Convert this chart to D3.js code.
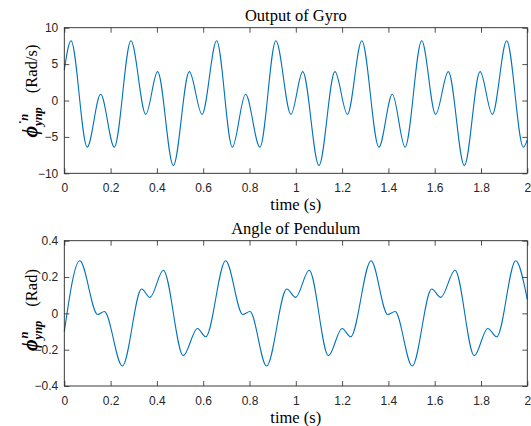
<!DOCTYPE html>
<html>
<head>
<meta charset="utf-8">
<script src="https://cdn.jsdelivr.net/npm/d3@7"></script>
<style>
  html, body { margin: 0; padding: 0; background: #fff; }
  svg { display: block; }
</style>
</head>
<body>
<svg id="chart" width="531" height="426"></svg>
<script>
// Gyro rate (rad/s): turning points of the trace over 0..2 s
const gyroTime = [0, 0.029, 0.099, 0.157, 0.216, 0.288, 0.352, 0.403, 0.471, 0.540, 0.595, 0.658,
  0.726, 0.783, 0.845, 0.914, 0.979, 1.030, 1.100, 1.169, 1.223, 1.285, 1.359, 1.417, 1.472,
  1.544, 1.604, 1.659, 1.728, 1.796, 1.849, 1.911, 1.983, 2.0];
const gyroRate = [4.2, 8.2, -6.4, 0.85, -6.4, 8.2, -1.9, 3.96, -8.95, 3.96, -1.9, 8.2,
  -6.4, 0.85, -6.4, 8.2, -1.9, 3.96, -8.95, 3.96, -1.9, 8.2, -6.4, 0.85, -6.4,
  8.2, -1.9, 3.96, -8.95, 3.96, -1.9, 8.2, -6.4, -5.4];

// Pendulum angle (rad): turning points of the trace over 0..2 s
const angleTime = [0, 0.067, 0.144, 0.173, 0.251, 0.334, 0.370, 0.428, 0.514, 0.575, 0.611, 0.697,
  0.771, 0.802, 0.874, 0.961, 0.999, 1.058, 1.141, 1.200, 1.237, 1.325, 1.397, 1.429, 1.503,
  1.587, 1.626, 1.688, 1.771, 1.829, 1.868, 1.950, 2.0];
const angleValue = [-0.101, 0.29, -0.006, 0.01, -0.29, 0.134, 0.088, 0.237, -0.233, -0.083, -0.129, 0.29,
  -0.006, 0.01, -0.29, 0.134, 0.088, 0.237, -0.233, -0.083, -0.129, 0.29, -0.006, 0.01, -0.29,
  0.134, 0.088, 0.237, -0.233, -0.083, -0.129, 0.29, 0.077];

const xTicks = [0, 0.2, 0.4, 0.6, 0.8, 1, 1.2, 1.4, 1.6, 1.8, 2];
const gyroTicks = [-10, -5, 0, 5, 10];
const angleTicks = [-0.4, -0.2, 0, 0.2, 0.4];

const svg = d3.select("#chart");
const lineColor = "#0072BD";
const axisColor = "#262626";
const serif = "'Liberation Serif', 'Times New Roman', serif";
const sans = "'Liberation Sans', Arial, sans-serif";

function panel(opts) {
  const { left, right, top, bottom, xs, ys, yDomain, yTicks, yFmt, title, unit } = opts;
  const x = d3.scaleLinear().domain([0, 2]).range([left, right]);
  const y = d3.scaleLinear().domain(yDomain).range([bottom, top]);
  const g = svg.append("g");

  // data trace
  const pts = xs.map((t, i) => [t, ys[i]]);
  g.append("path")
    .datum(pts)
    .attr("fill", "none")
    .attr("stroke", lineColor)
    .attr("stroke-width", 1.1)
    .attr("d", d3.line().x(d => x(d[0])).y(d => y(d[1])).curve(d3.curveMonotoneX));

  const tickLen = 5;
  const styleAxis = (sel, labels) => {
    sel.select(".domain").remove();
    sel.selectAll(".tick line").attr("stroke", axisColor).attr("stroke-width", 0.8);
    sel.selectAll(".tick text")
      .attr("fill", axisColor)
      .style("font-family", sans)
      .style("font-size", "12px");
    if (!labels) sel.selectAll(".tick text").remove();
  };

  // bottom / top x axes (ticks point inward)
  g.append("g").attr("transform", `translate(0,${bottom})`)
    .call(d3.axisBottom(x).tickValues(xTicks).tickSizeInner(-tickLen).tickSizeOuter(0)
      .tickPadding(10).tickFormat(d3.format("~g")))
    .call(s => styleAxis(s, true));
  g.append("g").attr("transform", `translate(0,${top})`)
    .call(d3.axisTop(x).tickValues(xTicks).tickSizeInner(-tickLen).tickSizeOuter(0))
    .call(s => styleAxis(s, false));
  // left / right y axes
  g.append("g").attr("transform", `translate(${left},0)`)
    .call(d3.axisLeft(y).tickValues(yTicks).tickSizeInner(-tickLen).tickSizeOuter(0)
      .tickPadding(6).tickFormat(yFmt))
    .call(s => styleAxis(s, true));
  g.append("g").attr("transform", `translate(${right},0)`)
    .call(d3.axisRight(y).tickValues(yTicks).tickSizeInner(-tickLen).tickSizeOuter(0))
    .call(s => styleAxis(s, false));

  // box
  g.append("rect")
    .attr("x", left).attr("y", top)
    .attr("width", right - left).attr("height", bottom - top)
    .attr("fill", "none").attr("stroke", axisColor).attr("stroke-width", 0.9);

  // title
  g.append("text")
    .attr("x", (left + right) / 2).attr("y", top - 7)
    .attr("text-anchor", "middle")
    .style("font-family", serif).style("font-size", "16.5px").attr("fill", "#000")
    .text(title);

  // x label
  g.append("text")
    .attr("x", (left + right) / 2).attr("y", bottom + 37)
    .attr("text-anchor", "middle")
    .style("font-family", serif).style("font-size", "16.5px").attr("fill", "#000")
    .text("time (s)");

  // y label: bold italic phi with super/subscripts, then unit
  const lab = g.append("g");
  const bi = sel => sel.style("font-family", serif).style("font-weight", "bold").style("font-style", "italic");
  const phi = lab.append("text").attr("x", 0).attr("y", 0)
    .call(bi).style("font-size", "20px").text("\u03D5");
  const wPhi = phi.node().getComputedTextLength();
  const sup = lab.append("text").attr("x", wPhi + 1).attr("y", -9)
    .call(bi).style("font-size", "12.5px").text(opts.dot ? "\u02D9n" : "n");
  const sub = lab.append("text").attr("x", wPhi).attr("y", 5)
    .call(bi).style("font-size", "12.5px").text("ynp");
  const wScript = Math.max(sup.node().getComputedTextLength() + 1, sub.node().getComputedTextLength());
  const gap = 14;
  const unitText = lab.append("text").attr("x", wPhi + wScript + gap).attr("y", 0)
    .style("font-family", serif).style("font-size", "16.5px")
    .text(unit);
  const total = wPhi + wScript + gap + unitText.node().getComputedTextLength();
  lab.attr("transform", `translate(${opts.labelX},${opts.labelCy}) rotate(-90) translate(${-total / 2},0)`);
}

panel({
  left: 64.3, right: 527.3, top: 27.7, bottom: 173.3,
  xs: gyroTime, ys: gyroRate, yDomain: [-10, 10], yTicks: gyroTicks,
  yFmt: d3.format("d"), title: "Output of Gyro", unit: "(Rad/s)",
  dot: true, labelX: 37, labelCy: 91
});

panel({
  left: 64.3, right: 527.3, top: 240.7, bottom: 386,
  xs: angleTime, ys: angleValue, yDomain: [-0.4, 0.4], yTicks: angleTicks,
  yFmt: d => d === 0 ? "0" : d3.format(".1f")(d), title: "Angle of Pendulum", unit: "(Rad)",
  dot: false, labelX: 37, labelCy: 310
});
</script>
</body>
</html>
